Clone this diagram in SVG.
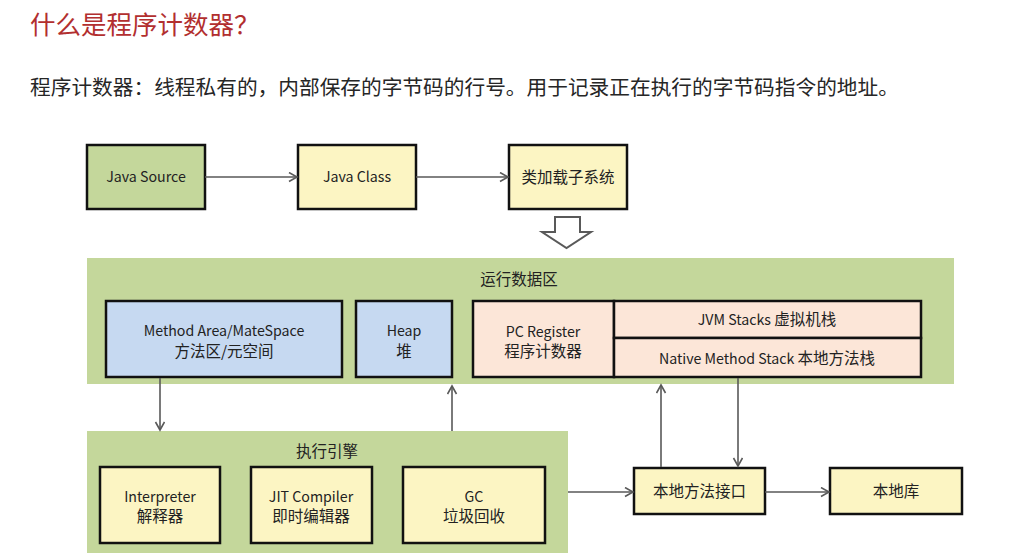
<svg xmlns="http://www.w3.org/2000/svg" width="1035" height="556" viewBox="0 0 1035 556">
<style>
  text { font-family: "Noto Sans CJK SC", "Liberation Sans", sans-serif; fill: #222; }
  .t { font-size: 14.2px; text-anchor: middle; }
  .c { font-size: 15.5px; text-anchor: middle; }
  .cs { font-size: 15.5px; }
  .box { stroke: #111; stroke-width: 2.5; }
  .green { fill: #c4d79b; }
  .yellow { fill: #fcf5c3; }
  .blue { fill: #c6d9f1; }
  .pink { fill: #fce6d8; }
  .conn { stroke: #595959; stroke-width: 1.6; fill: none; marker-end: url(#arr); }
</style>
<defs>
  <marker id="arr" markerUnits="userSpaceOnUse" markerWidth="12" markerHeight="12" refX="9" refY="5" orient="auto">
    <path d="M1,0.5 L9,5 L1,9.5" fill="none" stroke="#595959" stroke-width="1.6"/>
  </marker>
</defs>
<rect width="1035" height="556" fill="#ffffff"/>

<text x="30" y="34" style="font-size:25.5px;fill:#b22f2f">什么是程序计数器？</text>
<text x="30" y="95" style="font-size:20.7px;fill:#262626">程序计数器：线程私有的，内部保存的字节码的行号。用于记录正在执行的字节码指令的地址。</text>

<g id="runtime-area">
  <rect x="87" y="258" width="867" height="126" class="green"/>
  <text x="519" y="285" style="font-size:15.5px;text-anchor:middle">运行数据区</text>
</g>
<g id="exec-engine">
  <rect x="87" y="431" width="481" height="122" class="green"/>
  <text x="327" y="457" style="font-size:15.5px;text-anchor:middle">执行引擎</text>
</g>

<g id="java-source">
  <rect x="87" y="145" width="118" height="64" class="box green"/>
  <text x="146" y="182" class="t">Java Source</text>
</g>
<g id="java-class">
  <rect x="298" y="145" width="118" height="64" class="box yellow"/>
  <text x="357" y="182" class="t">Java Class</text>
</g>
<g id="class-loader">
  <rect x="509" y="145" width="118" height="64" class="box yellow"/>
  <text x="568" y="183" class="c">类加载子系统</text>
</g>
<g id="hollow-arrow">
  <polygon points="555,217 580,217 580,232 591,232 566.5,248 542,232 555,232" fill="#ffffff" stroke="#595959" stroke-width="2"/>
</g>

<g id="method-area">
  <rect x="106" y="301" width="236" height="76" class="box blue"/>
  <text x="224" y="336" class="t">Method Area/MateSpace</text>
  <text x="224" y="357" class="c">方法区/元空间</text>
</g>
<g id="heap">
  <rect x="356" y="301" width="96" height="76" class="box blue"/>
  <text x="404" y="336" class="t">Heap</text>
  <text x="404" y="357" class="c">堆</text>
</g>
<g id="pc-register">
  <rect x="473" y="301" width="141" height="76" class="box pink"/>
  <text x="543" y="337" class="t">PC Register</text>
  <text x="543" y="357" class="c">程序计数器</text>
</g>
<g id="jvm-stacks">
  <rect x="614" y="301" width="307" height="37" class="box pink"/>
  <text x="767" y="325" class="t">JVM Stacks <tspan class="cs">虚拟机栈</tspan></text>
</g>
<g id="native-stack">
  <rect x="614" y="338" width="307" height="39" class="box pink"/>
  <text x="767" y="364" class="t">Native Method Stack <tspan class="cs">本地方法栈</tspan></text>
</g>

<g id="interpreter">
  <rect x="100" y="467" width="120" height="76" class="box yellow"/>
  <text x="160" y="502" class="t">Interpreter</text>
  <text x="160" y="522" class="c">解释器</text>
</g>
<g id="jit">
  <rect x="251" y="467" width="121" height="76" class="box yellow"/>
  <text x="311" y="502" class="t">JIT Compiler</text>
  <text x="311" y="522" class="c">即时编辑器</text>
</g>
<g id="gc">
  <rect x="403" y="467" width="142" height="76" class="box yellow"/>
  <text x="474" y="502" class="t">GC</text>
  <text x="474" y="522" class="c">垃圾回收</text>
</g>

<g id="native-interface">
  <rect x="634" y="468" width="131" height="46" class="box yellow"/>
  <text x="699.5" y="497" class="c">本地方法接口</text>
</g>
<g id="native-lib">
  <rect x="830" y="468" width="132" height="46" class="box yellow"/>
  <text x="896" y="497" class="c">本地库</text>
</g>

<g id="connectors">
  <line x1="205" y1="177" x2="297" y2="177" class="conn"/>
  <line x1="416" y1="177" x2="508" y2="177" class="conn"/>
  <line x1="160" y1="378" x2="160" y2="430" class="conn"/>
  <line x1="452" y1="431" x2="452" y2="386" class="conn"/>
  <line x1="568" y1="492" x2="633" y2="492" class="conn"/>
  <line x1="661" y1="467" x2="661" y2="385" class="conn"/>
  <line x1="738" y1="378" x2="738" y2="466" class="conn"/>
  <line x1="765" y1="492" x2="829" y2="492" class="conn"/>
</g>
</svg>
